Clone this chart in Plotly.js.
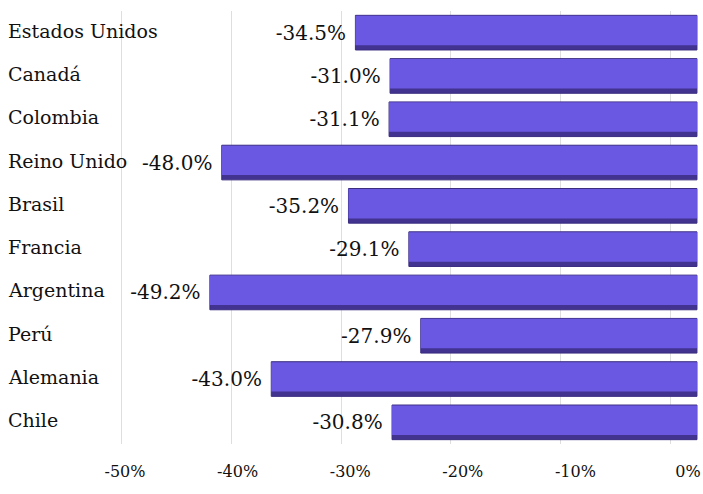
<!DOCTYPE html>
<html>
<head>
<meta charset="utf-8">
<script src="https://cdn.plot.ly/plotly-3.0.1.min.js"></script>
<style>html,body{margin:0;padding:0;background:#fff;}#chart{width:703px;height:494px;}</style>
</head>
<body>
<div id="chart"></div>
<script>
const countries = ["Estados Unidos","Canadá","Colombia","Reino Unido","Brasil","Francia","Argentina","Perú","Alemania","Chile"];
const changes = [-34.5,-31.0,-31.1,-48.0,-35.2,-29.1,-49.2,-27.9,-43.0,-30.8];
const tickValues = [-50,-40,-30,-20,-10,0];

const FONT = "DejaVu Serif, serif";

const data = [
  {
    type: "bar",
    orientation: "h",
    y: countries,
    x: changes,
    width: 0.8,
    marker: {color: "#41338f", line: {color: "#3a2c80", width: 1}},
    texttemplate: "%{x:.1f}%\u00a0",
    textposition: "outside",
    constraintext: "none",
    cliponaxis: false,
    textfont: {family: FONT, size: 20, color: "#111111"},
    hoverinfo: "skip"
  },
  {
    type: "bar",
    orientation: "h",
    y: countries,
    x: changes,
    width: 0.68,
    offset: -0.39,
    marker: {color: "#6a58e2", line: {width: 0}},
    textposition: "none",
    hoverinfo: "skip"
  },
  {type: "scatter", x: [], y: [], xaxis: "x2", yaxis: "y", showlegend: false, hoverinfo: "skip"},
  {type: "scatter", x: [], y: [], xaxis: "x3", yaxis: "y", showlegend: false, hoverinfo: "skip"}
];

const annotations = countries.map((c, i) => ({
  xref: "paper", yref: "y", x: 0.008, y: c,
  text: c, showarrow: false, xanchor: "left", yanchor: "middle",
  yshift: 2,
  font: {family: FONT, size: 19, color: "#111111"}
}));

const layout = {
  width: 703, height: 494,
  margin: {l: 0, r: 0, t: 11, b: 50},
  paper_bgcolor: "#ffffff",
  plot_bgcolor: "rgba(0,0,0,0)",
  showlegend: false,
  barmode: "overlay",
  xaxis: {range: [-70.4, 0.61], showgrid: false, zeroline: false, showticklabels: false, ticks: "", showline: false},
  xaxis2: {overlaying: "x", anchor: "y", side: "bottom", range: [-61.13, 3.01],
           showgrid: true, gridcolor: "#dedede", gridwidth: 1, tickvals: tickValues,
           zeroline: false, showticklabels: false, ticks: "", showline: false, layer: "below traces"},
  xaxis3: {overlaying: "x", anchor: "y", side: "bottom", range: [-61.1, 1.33],
           showgrid: false, zeroline: false, tickvals: tickValues, ticktext: tickValues.map(v => v + "%"),
           ticks: "", ticklabelstandoff: 16, showline: false,
           tickfont: {family: FONT, size: 16, color: "#111111"}},
  yaxis: {categoryorder: "array", categoryarray: countries, autorange: "reversed",
          showticklabels: false, showgrid: false, zeroline: false, ticks: "", showline: false},
  annotations: annotations
};

Plotly.newPlot("chart", data, layout, {displayModeBar: false, staticPlot: true});
</script>
</body>
</html>
